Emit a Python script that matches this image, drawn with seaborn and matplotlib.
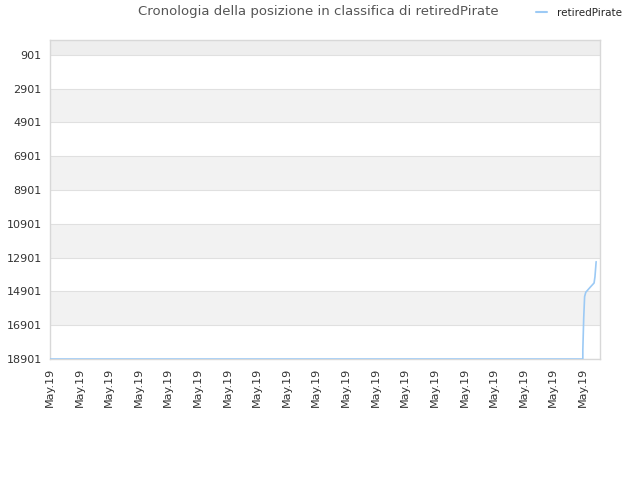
import matplotlib
matplotlib.use('Agg')
import matplotlib.pyplot as plt
import seaborn as sns
import pandas as pd

# ranking history (position along the time axis, rank)
player = 'retiredPirate'
step = [0, 18.0, 18.0, 18.03, 18.06, 18.1, 18.25, 18.38, 18.41, 18.45]
rank = [18901, 18901, 18370, 16470, 15210, 14950, 14650, 14400, 14030, 13140]
y_ticks = [901, 2901, 4901, 6901, 8901, 10901, 12901, 14901, 16901, 18901]
x_labels = ['May.19'] * 19

df = pd.DataFrame({'step': step, 'rank': rank, 'player': player})

sns.set_style('white')
plt.rcParams['font.family'] = ['DejaVu Sans']

fig = plt.figure(figsize=(6.4, 4.8), dpi=100)
ax = fig.add_axes([0.078, 0.252, 0.8595, 0.665])

ax.set_ylim(18901, 13)
ax.set_xlim(0, 18.58)

# alternating bands
ax.axhspan(13, 901, color='#eeeeee', zorder=0, lw=0)
for i in range(len(y_ticks) - 1):
    if i % 2 == 1:
        ax.axhspan(y_ticks[i], y_ticks[i + 1], color='#f2f2f2', zorder=0, lw=0)
for t in y_ticks:
    ax.axhline(t, color='#e0e0e0', lw=0.8, zorder=1)

sns.lineplot(data=df, x='step', y='rank', ax=ax, color='#9ccaf5', lw=1.2,
             sort=False, estimator=None, legend=False, zorder=3)

ax.set_yticks(y_ticks)
ax.set_yticklabels([str(t) for t in y_ticks], fontsize=8, color='#333333')
ax.set_xticks(range(len(x_labels)))
ax.set_xticklabels(x_labels, rotation=90, fontsize=8, color='#333333')
ax.tick_params(length=0, pad=6)
ax.set_xlabel('')
ax.set_ylabel('')
for s in ax.spines.values():
    s.set_color('#d8d8d8')
    s.set_linewidth(1)

fig.text(0.497, 0.975, 'Cronologia della posizione in classifica di ' + player,
         ha='center', va='center', fontsize=9.5, color='#555555')
fig.legend(handles=[plt.Line2D([], [], color='#9ccaf5', lw=1.5)], labels=[player],
           loc='center', bbox_to_anchor=(0.905, 0.973), frameon=False,
           fontsize=7.5, handlelength=1.0, handletextpad=1.0)

fig.savefig('out.png', dpi=100)
